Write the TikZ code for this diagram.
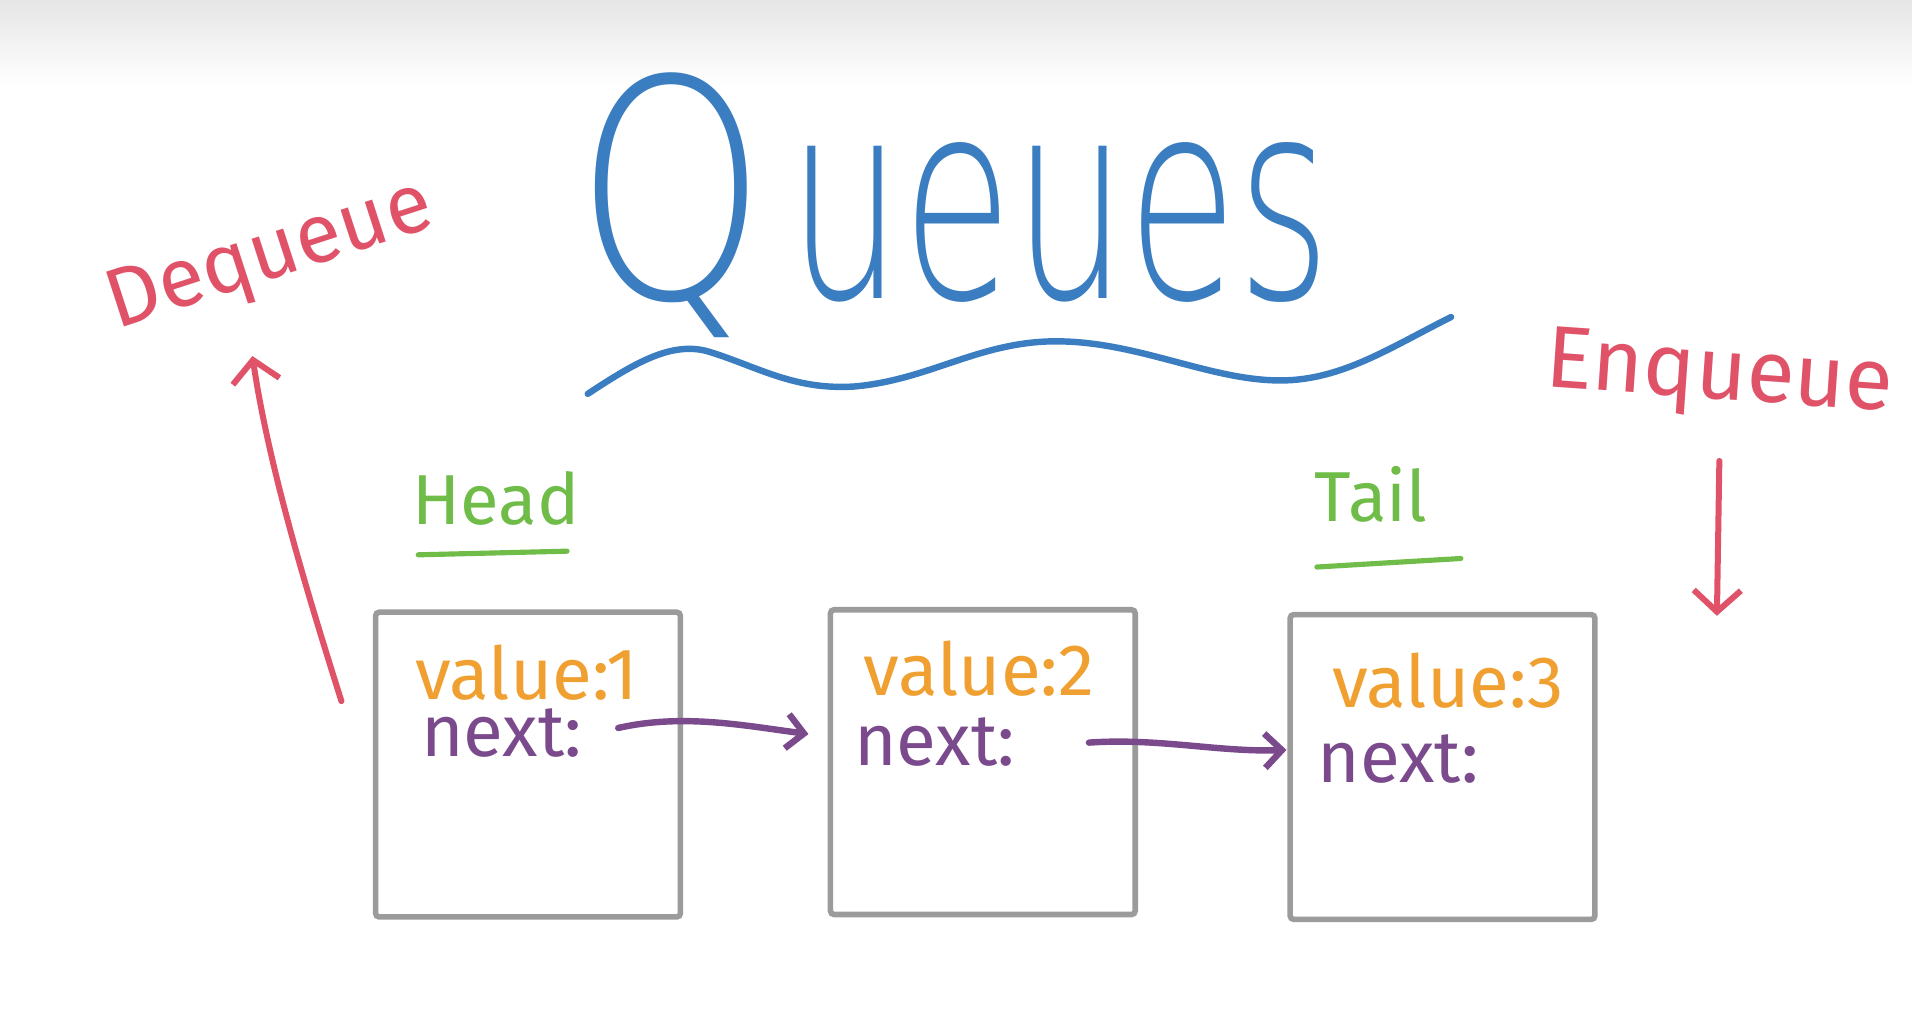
\documentclass[tikz,border=0pt]{standalone}
\usepackage{fontspec}
\usepackage{graphicx}
\setmainfont{Fira Sans}
\newfontfamily\thinfont{DejaVuSans-ExtraLight.ttf}
\usetikzlibrary{arrows.meta}
\definecolor{qblue}{RGB}{58,125,192}
\definecolor{qred}{RGB}{224,82,104}
\definecolor{qgreen}{RGB}{112,188,72}
\definecolor{qorange}{RGB}{240,160,48}
\definecolor{qpurple}{RGB}{122,74,140}
\definecolor{qgray}{RGB}{155,155,155}
\tikzset{
  qbox/.style={draw=qgray, line width=2.6pt, rounded corners=0.06cm, minimum width=5cm, minimum height=5cm, inner sep=0pt},
  valtext/.style={text=qorange, font=\fontsize{34}{34}\selectfont, inner sep=0pt, anchor=base west},
  nexttext/.style={text=qpurple, font=\fontsize{34}{34}\selectfont, inner sep=0pt, anchor=base west},
  ptrarrow/.style={draw=qpurple, line width=3pt, line cap=round, -{Straight Barb[length=8pt,width=16pt,line width=3pt]}},
  redarrow/.style={draw=qred, line width=2.8pt, line cap=round, -{Straight Barb[length=10pt,width=22pt,line width=2.8pt]}},
  label/.style={text=qgreen, font=\fontsize{33}{33}\selectfont, inner sep=0pt, anchor=base west},
  uline/.style={draw=qgreen, line width=2.4pt, line cap=round},
  optext/.style={text=qred, inner sep=0pt},
}
\begin{document}
\begin{tikzpicture}[x=0.02cm,y=-0.02cm]
\useasboundingbox (0,0) rectangle (1568,848);
\fill[white] (0,0) rectangle (1568,848);
\shade[top color=black!10, bottom color=white] (0,0) rectangle (1568,70);

% title
\node[anchor=base west, inner sep=0pt, text=qblue] (title) at (472,245)
  {\thinfont\scalebox{0.8}[1]{\fontsize{142}{142}\selectfont Q}\hspace{10pt}\scalebox{0.645}[1]{\fontsize{130}{130}\selectfont ueues}};
\coordinate (w0) at (482,323);
\coordinate (w1) at (1190,260);
\draw[qblue, line width=3pt, line cap=round] (w0)
  .. controls (520,298) and (550,280) .. (580,288)
  .. controls (620,300) and (650,320) .. (700,317)
  .. controls (760,312) and (800,282) .. (860,280)
  .. controls (930,278) and (990,312) .. (1050,312)
  .. controls (1100,312) and (1140,285) .. (w1);

% boxes
\node[qbox] (b1) at (433,627) {};
\node[qbox] (b2) at (806,625) {};
\node[qbox] (b3) at (1183,629) {};

\node[valtext] (v1) at (340,574) {value:1};
\node[nexttext] (n1) at (345,620) {next:};
\node[valtext] (v2) at (708,570) {value:2};
\node[nexttext] (n2) at (700,628) {next:};
\node[valtext] (v3) at (1092,580) {value:3};
\node[nexttext] (n3) at (1080,642) {next:};

\coordinate (p1s) at (507,597);
\coordinate (p1e) at (663,602);
\coordinate (p2s) at (893,609);
\coordinate (p2e) at (1055,615);
\draw[ptrarrow] (p1s) .. controls (560,585) and (610,595) .. (p1e);
\draw[ptrarrow] (p2s) .. controls (950,605) and (1000,617) .. (p2e);

% head / tail
\node[label] (head) at (338,430) {Head};
\draw[uline] (343,455) -- (465,452);
\node[label] (tail) at (1078,428) {Tail};
\draw[uline] (1080,465) -- (1198,458);

% dequeue / enqueue
\node[optext, font=\fontsize{39}{39}\selectfont, rotate=18] (deq) at (222,212) {Dequeue};
\coordinate (ds) at (280,575);
\coordinate (de) at (207,292);
\draw[redarrow] (ds) .. controls (250,480) and (220,380) .. (de);
\node[optext, font=\fontsize{41}{41}\selectfont, rotate=-4] (enq) at (1410,310) {Enqueue};
\coordinate (es) at (1410,378);
\coordinate (ee) at (1408,505);
\draw[redarrow] (es) -- (ee);
\end{tikzpicture}
\end{document}
